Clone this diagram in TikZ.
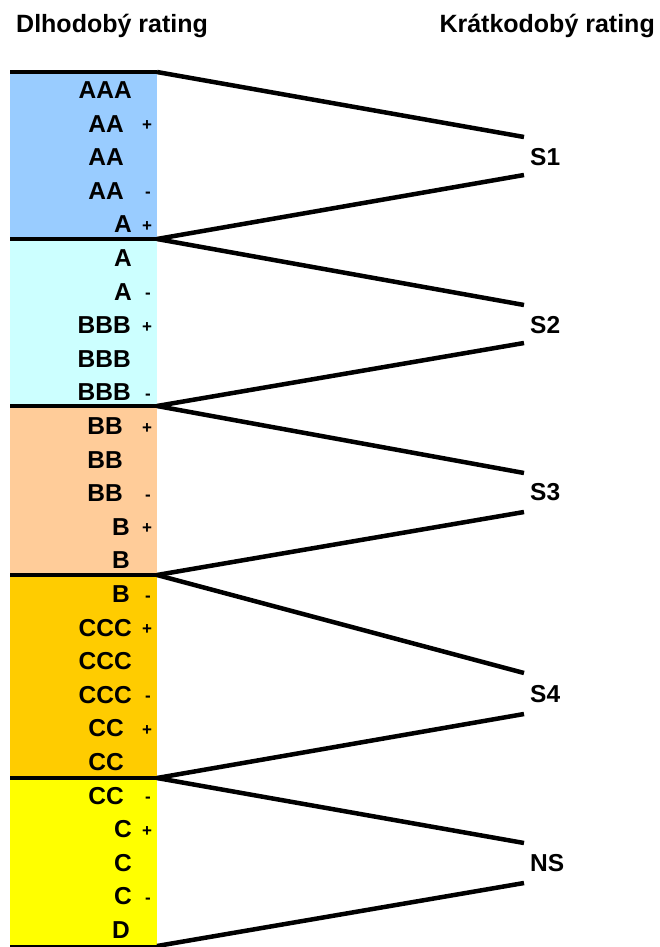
\documentclass[tikz,border=0pt]{standalone}
\usepackage{fontspec}
\setmainfont{Liberation Sans}
\usepackage{tikz}

\definecolor{pasmoA}{HTML}{99CCFF}
\definecolor{pasmoB}{HTML}{CCFFFF}
\definecolor{pasmoC}{HTML}{FFCC99}
\definecolor{pasmoD}{HTML}{FFCC00}
\definecolor{pasmoE}{HTML}{FFFF00}

\begin{document}
\begin{tikzpicture}[x=1pt, y=-1pt,
    rat/.style={anchor=east, inner sep=0pt, font=\bfseries\fontsize{24.5}{24}\selectfont},
    mod/.style={anchor=base, inner sep=0pt, font=\bfseries\fontsize{17}{17}\selectfont},
    hlava/.style={inner sep=0pt, font=\bfseries\fontsize{25}{25}\selectfont},
    ciara/.style={line width=4.5pt}]
      \useasboundingbox (0,0) rectangle (659,947);
      % Nadpisy
      \node[hlava, anchor=base west] (dlh) at (16, 33) {Dlhodobý rating};
      \node[hlava, anchor=base east] (kra) at (655, 33) {Krátkodobý rating};

      % Pasma
      \fill[pasmoA] (10, 72) rectangle (157, 239);
      \fill[pasmoB] (10, 239) rectangle (157, 406);
      \fill[pasmoC] (10, 406) rectangle (157, 575);
      \fill[pasmoD] (10, 575) rectangle (157, 778);
      \fill[pasmoE] (10, 778) rectangle (157, 946);
      \coordinate (b1) at (157, 72);
      \coordinate (b2) at (157, 239);
      \coordinate (b3) at (157, 406);
      \coordinate (b4) at (157, 575);
      \coordinate (b5) at (157, 778);
      \coordinate (b6) at (157, 946);
      \draw[ciara] (10, 72) -- (b1);
      \draw[ciara] (10, 239) -- (b2);
      \draw[ciara] (10, 406) -- (b3);
      \draw[ciara] (10, 575) -- (b4);
      \draw[ciara] (10, 778) -- (b5);
      \draw[line width=2pt] (10, 946) -- (b6);

      % Dlhodoby rating
      \node[rat] (r1) at (132, 90) {AAA};
      \node[rat] (r2) at (124, 123.6) {AA};   \node[mod] (m2) at (147, 130.6) {+};
      \node[rat] (r3) at (124, 157.2) {AA};
      \node[rat] (r4) at (124, 190.8) {AA};   \node[mod] (m4) at (148, 197.8) {-};
      \node[rat] (r5) at (132, 224.4) {A};    \node[mod] (m5) at (147, 231.4) {+};
      \node[rat] (r6) at (132, 258) {A};
      \node[rat] (r7) at (132, 291.6) {A};    \node[mod] (m7) at (148, 298.6) {-};
      \node[rat] (r8) at (131, 325.2) {BBB};  \node[mod] (m8) at (147, 332.2) {+};
      \node[rat] (r9) at (131, 358.8) {BBB};
      \node[rat] (r10) at (131, 392.4) {BBB}; \node[mod] (m10) at (148, 399.4) {-};
      \node[rat] (r11) at (123, 426) {BB};    \node[mod] (m11) at (147, 433) {+};
      \node[rat] (r12) at (123, 459.6) {BB};
      \node[rat] (r13) at (123, 493.2) {BB};  \node[mod] (m13) at (148, 500.2) {-};
      \node[rat] (r14) at (130, 526.8) {B};   \node[mod] (m14) at (147, 533.8) {+};
      \node[rat] (r15) at (130, 560.4) {B};
      \node[rat] (r16) at (130, 594) {B};     \node[mod] (m16) at (148, 601) {-};
      \node[rat] (r17) at (132, 627.6) {CCC}; \node[mod] (m17) at (147, 634.6) {+};
      \node[rat] (r18) at (132, 661.2) {CCC};
      \node[rat] (r19) at (132, 694.8) {CCC}; \node[mod] (m19) at (148, 701.8) {-};
      \node[rat] (r20) at (124, 728.4) {CC};  \node[mod] (m20) at (147, 735.4) {+};
      \node[rat] (r21) at (124, 762) {CC};
      \node[rat] (r22) at (124, 795.6) {CC};  \node[mod] (m22) at (148, 802.6) {-};
      \node[rat] (r23) at (132, 829.2) {C};   \node[mod] (m23) at (147, 836.2) {+};
      \node[rat] (r24) at (132, 862.8) {C};
      \node[rat] (r25) at (132, 896.4) {C};   \node[mod] (m25) at (148, 903.4) {-};
      \node[rat] (r26) at (130, 930) {D};

      % Kratkodoby rating
      \node[rat, anchor=west] (s1) at (530, 157) {S1};
      \node[rat, anchor=west] (s2) at (530, 325) {S2};
      \node[rat, anchor=west] (s3) at (530, 492) {S3};
      \node[rat, anchor=west] (s4) at (530, 694) {S4};
      \node[rat, anchor=west] (ns) at (530, 863) {NS};
      \coordinate (s1a) at (524, 137);
      \coordinate (s1b) at (524, 175);
      \coordinate (s2a) at (524, 305);
      \coordinate (s2b) at (524, 343);
      \coordinate (s3a) at (524, 473);
      \coordinate (s3b) at (524, 512);
      \coordinate (s4a) at (524, 673);
      \coordinate (s4b) at (524, 714);
      \coordinate (nsa) at (524, 843);
      \coordinate (nsb) at (524, 883);

      % Priradenie
      \draw[ciara] (b1) -- (s1a);
      \draw[ciara] (s1b) -- (b2);
      \draw[ciara] (b2) -- (s2a);
      \draw[ciara] (s2b) -- (b3);
      \draw[ciara] (b3) -- (s3a);
      \draw[ciara] (s3b) -- (b4);
      \draw[ciara] (b4) -- (s4a);
      \draw[ciara] (s4b) -- (b5);
      \draw[ciara] (b5) -- (nsa);
      \draw[ciara] (nsb) -- (b6);

    \end{tikzpicture}
\end{document}
